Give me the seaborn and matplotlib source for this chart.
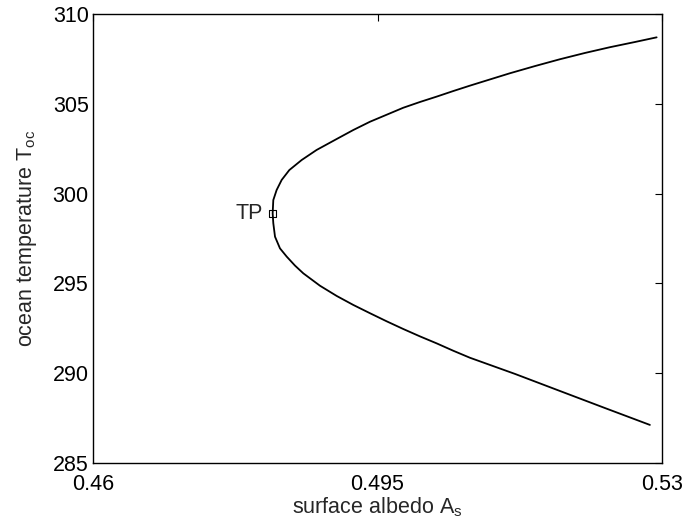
import numpy as np
import pandas as pd
import matplotlib
matplotlib.use("Agg")
import matplotlib.pyplot as plt
import seaborn as sns

# Equilibrium branch traced from the warm end, through the turning point, to the cold end
albedo = [0.52934, 0.52667, 0.52359, 0.52052, 0.51744, 0.51437, 0.51129, 0.50822,
          0.50637, 0.50432, 0.50228, 0.50022, 0.49817, 0.49612, 0.49407, 0.49202,
          0.48998, 0.48751, 0.48567, 0.48415, 0.48321, 0.48259, 0.48218, 0.48210,
          0.48218, 0.48239, 0.48300, 0.48383, 0.48485, 0.48587, 0.48792, 0.48998,
          0.49202, 0.49407, 0.49612, 0.49817, 0.50022, 0.50228, 0.50432, 0.50637,
          0.51191, 0.51744, 0.52298, 0.52851]
temperature = [308.70, 308.44, 308.15, 307.83, 307.48, 307.10, 306.70, 306.27,
               306.01, 305.71, 305.40, 305.10, 304.78, 304.39, 304.00, 303.54,
               303.04, 302.43, 301.87, 301.31, 300.76, 300.20, 299.64, 298.90,
               298.35, 297.60, 296.95, 296.49, 295.99, 295.56, 294.87, 294.30,
               293.80, 293.34, 292.89, 292.46, 292.05, 291.66, 291.25, 290.86,
               289.96, 289.01, 288.06, 287.12]

# Turning point
tp_albedo = [0.48210]
tp_temperature = [298.90]

x_ticks = [0.46, 0.495, 0.53]
x_tick_labels = ["0.46", "0.495", "0.53"]
y_ticks = [285, 290, 295, 300, 305, 310]

sns.set_style("white")
plt.rcParams["font.family"] = ["Liberation Sans", "DejaVu Sans"]
plt.rcParams["mathtext.fontset"] = "custom"
plt.rcParams["mathtext.rm"] = "Liberation Sans"

fig = plt.figure(figsize=(6.86, 5.26), dpi=100)
ax = fig.add_axes([0.1356, 0.1198, 0.8294, 0.8536])

df = pd.DataFrame({"albedo": albedo, "temperature": temperature})
sns.lineplot(data=df, x="albedo", y="temperature", sort=False, estimator=None,
             color="black", linewidth=1.3, ax=ax)
for ln in ax.lines:
    ln.set_solid_joinstyle("round")

tp = pd.DataFrame({"albedo": tp_albedo, "temperature": tp_temperature})
sns.scatterplot(data=tp, x="albedo", y="temperature", marker="s", s=22,
                facecolor="none", edgecolor="black", linewidth=0.8, ax=ax, zorder=3)
ax.text(tp_albedo[0] - 0.0012, tp_temperature[0], "TP", fontsize=15.5,
        ha="right", va="center")

ax.set_xlim(0.46, 0.53)
ax.set_ylim(285, 310)
ax.set_xticks(x_ticks)
ax.set_xticklabels(x_tick_labels)
ax.set_yticks(y_ticks)

ax.tick_params(direction="in", length=5, width=0.8, top=True, right=True,
               labelsize=15.5, colors="black")
ax.tick_params(axis="x", pad=8)
ax.tick_params(axis="y", pad=3)
for s in ax.spines.values():
    s.set_visible(True)
    s.set_color("black")
    s.set_linewidth(1.0)

ax.set_xlabel(r"surface albedo A$_\mathregular{s}$", fontsize=15.5, labelpad=0)
ax.set_ylabel(r"ocean temperature T$_\mathregular{oc}$", fontsize=15.5, labelpad=10)

fig.savefig("out.png", dpi=100)
